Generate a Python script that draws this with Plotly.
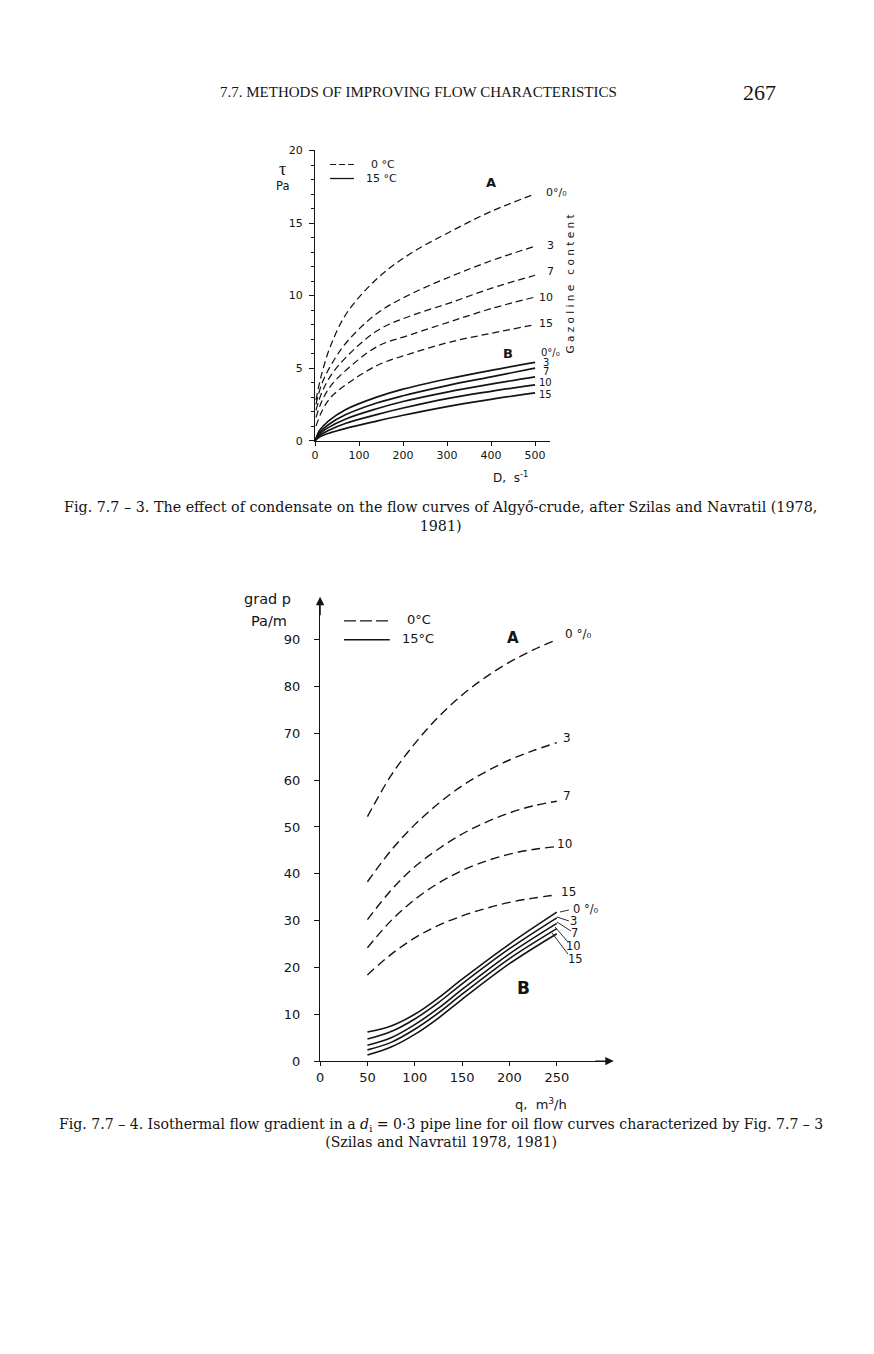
import plotly.graph_objects as go

W, H = 874, 1354
INK = "#141414"
SANS = "DejaVu Sans"
SERIF = "Liberation Serif"
CAPSERIF = "DejaVu Serif"

# ---------------- Fig. 7.7-3 data (shear stress vs shear rate) ----------------
gas_labels = ["0", "3", "7", "10", "15"]

D_cold = [2, 15, 36, 72, 142, 217, 307, 400, 500]
tau_cold = {
    "0":  [2.8, 4.6, 6.6, 8.8, 11.2, 12.9, 14.4, 15.8, 17.0],
    "3":  [2.5, 3.9, 5.2, 6.8, 8.8, 10.1, 11.3, 12.4, 13.4],
    "7":  [2.1, 3.3, 4.5, 5.8, 7.6, 8.6, 9.5, 10.5, 11.4],
    "10": [1.6, 2.7, 3.8, 4.9, 6.5, 7.3, 8.2, 9.1, 9.9],
    "15": [1.0, 2.0, 3.0, 3.9, 5.2, 6.0, 6.8, 7.4, 8.0],
}
D_warm = [0, 10, 30, 70, 140, 200, 300, 400, 500]
tau_warm = {
    "0":  [0, 0.7, 1.35, 2.15, 3.0, 3.55, 4.25, 4.85, 5.4],
    "3":  [0, 0.55, 1.1, 1.8, 2.6, 3.1, 3.8, 4.4, 5.0],
    "7":  [0, 0.45, 0.9, 1.5, 2.2, 2.7, 3.35, 3.9, 4.4],
    "10": [0, 0.35, 0.7, 1.2, 1.8, 2.25, 2.9, 3.4, 3.85],
    "15": [0, 0.25, 0.5, 0.85, 1.35, 1.75, 2.35, 2.85, 3.3],
}
top_xticks = [0, 100, 200, 300, 400, 500]
top_yticks = [0, 5, 10, 15, 20]

# ---------------- Fig. 7.7-4 data (pressure gradient vs flow rate) ----------------
q_cold = [50, 75, 100, 125, 150, 175, 200, 225, 250]
g_cold = {
    "0":  [52.2, 61.0, 67.8, 73.5, 78.2, 82.0, 85.2, 87.8, 90.0],
    "3":  [38.3, 45.0, 50.5, 55.0, 58.8, 61.8, 64.3, 66.3, 68.0],
    "7":  [30.2, 36.5, 41.5, 45.3, 48.5, 51.0, 53.0, 54.5, 55.5],
    "10": [24.2, 30.0, 34.5, 38.0, 40.7, 42.7, 44.2, 45.2, 45.8],
    "15": [18.4, 22.8, 26.3, 29.0, 31.0, 32.6, 33.9, 34.8, 35.5],
}
q_warm = [50, 75, 100, 125, 150, 200, 250]
g_warm = {
    "0":  [6.2, 7.5, 10.0, 13.5, 17.5, 25.0, 31.8],
    "3":  [4.7, 6.3, 9.0, 12.5, 16.5, 24.0, 30.6],
    "7":  [3.4, 5.0, 7.8, 11.3, 15.3, 22.9, 29.4],
    "10": [2.4, 4.0, 6.8, 10.3, 14.3, 21.9, 28.3],
    "15": [1.3, 3.0, 5.7, 9.2, 13.2, 20.8, 27.2],
}
bot_xticks = [0, 50, 100, 150, 200, 250]
bot_yticks = [0, 10, 20, 30, 40, 50, 60, 70, 80, 90]


# page-pixel -> paper coordinates (compensating the offset seen in the rendered page)
def px(x):
    return (x - 9.5) / W


def py(y):
    return 1 - ((y - 13.6) / 0.989) / H


fig = go.Figure()

for g in gas_labels:
    fig.add_trace(go.Scatter(x=D_cold, y=tau_cold[g], mode="lines", line_shape="spline",
                             line=dict(color=INK, width=1.25, dash="7px,4px"),
                             xaxis="x", yaxis="y", showlegend=False, hoverinfo="skip"))
for g in gas_labels:
    fig.add_trace(go.Scatter(x=D_warm, y=tau_warm[g], mode="lines", line_shape="spline",
                             line=dict(color=INK, width=1.7),
                             xaxis="x", yaxis="y", showlegend=False, hoverinfo="skip"))
for g in gas_labels:
    fig.add_trace(go.Scatter(x=q_cold, y=g_cold[g], mode="lines", line_shape="spline",
                             line=dict(color=INK, width=1.4, dash="9px,5px"),
                             xaxis="x2", yaxis="y2", showlegend=False, hoverinfo="skip"))
for g in gas_labels:
    fig.add_trace(go.Scatter(x=q_warm, y=g_warm[g], mode="lines", line_shape="spline",
                             line=dict(color=INK, width=1.6),
                             xaxis="x2", yaxis="y2", showlegend=False, hoverinfo="skip"))

axis_common = dict(showline=True, linecolor=INK, linewidth=1.2, showgrid=False,
                   zeroline=False, ticks="outside", tickcolor=INK, tickwidth=1,
                   fixedrange=True)

fig.update_layout(
    width=W, height=H, margin=dict(l=0, r=0, t=0, b=0),
    paper_bgcolor="white", plot_bgcolor="white",
    font=dict(family=SANS, color=INK),
    xaxis=dict(axis_common, domain=[px(314), px(550)], range=[0, 534], anchor="y",
               tickvals=top_xticks, ticklen=4, tickfont=dict(size=11, family=SANS)),
    yaxis=dict(axis_common, domain=[py(440), py(150)], range=[0, 20], anchor="x",
               tickvals=top_yticks, ticklen=5, ticklabelstandoff=4,
               tickfont=dict(size=11, family=SANS),
               minor=dict(dtick=1, ticklen=3, tickcolor=INK, ticks="outside")),
    xaxis2=dict(axis_common, domain=[px(319), px(606)], range=[0, 301.7], anchor="y2",
                tickvals=bot_xticks, ticklen=4, tickfont=dict(size=13, family=SANS)),
    yaxis2=dict(axis_common, domain=[py(1060), py(600)], range=[0, 98.3], anchor="x2",
                tickvals=bot_yticks, ticklen=5, ticklabelstandoff=11,
                tickfont=dict(size=13, family=SANS)),
)

ann = []


def text(x, y, s, size=12, family=SANS, xanchor="center", angle=0):
    ann.append(dict(x=px(x), y=py(y), xref="paper", yref="paper", text=s, showarrow=False,
                    font=dict(size=size, family=family, color=INK), xanchor=xanchor,
                    yanchor="middle", textangle=angle))


# page header and captions
text(418, 92, "7.7. METHODS OF IMPROVING FLOW CHARACTERISTICS", size=15, family=SERIF)
text(760, 92, "267", size=22, family=SERIF)
text(440, 516, "Fig. 7.7 – 3. The effect of condensate on the flow curves of Algyő-crude, after Szilas and Navratil (1978,<br>1981)",
     size=14.3, family=CAPSERIF)
text(440, 1132, "Fig. 7.7 – 4. Isothermal flow gradient in a <i>d</i><sub>i</sub> = 0·3 pipe line for oil flow curves characterized by Fig. 7.7 – 3<br>(Szilas and Navratil 1978, 1981)",
     size=14.1, family=CAPSERIF)

# top chart texts
text(281, 168, "τ", size=18, family=SERIF)
text(281, 185, "Pa", size=11.5)
text(368, 164, "0 °C", size=11, xanchor="left")
text(363, 178, "15 °C", size=11, xanchor="left")
text(491, 182, "<b>A</b>", size=13)
text(544, 192, "0°/₀", size=11, xanchor="left")
text(550, 245, "3", size=11)
text(550, 271, "7", size=11)
text(546, 297, "10", size=11)
text(546, 323, "15", size=11)
text(508, 353, "<b>B</b>", size=13)
text(539, 352, "0°/₀", size=10, xanchor="left")
text(546, 362, "3", size=10)
text(546, 371, "7", size=10)
text(545, 382, "10", size=10)
text(545, 394, "15", size=10)
text(570, 283, "G a z o l i n e   c o n t e n t", size=10.5, angle=-90)
text(510, 476, "D,  s<sup>-1</sup>", size=12)

# bottom chart texts
text(266, 598, "grad p", size=14.5)
text(268, 620, "Pa/m", size=14.5)
text(404, 619, "0°C", size=13, xanchor="left")
text(399, 638, "15°C", size=13, xanchor="left")
text(513, 637, "<b>A</b>", size=15)
text(563, 633, "0 °/₀", size=12, xanchor="left")
text(567, 737, "3", size=12)
text(567, 795, "7", size=12)
text(565, 843, "10", size=12)
text(569, 891, "15", size=12)
text(571, 908, "0 °/₀", size=11.5, xanchor="left")
text(574, 920, "3", size=11.5)
text(575, 932, "7", size=11.5)
text(574, 945, "10", size=11.5)
text(576, 958, "15", size=11.5)
text(523, 987, "<b>B</b>", size=17)
text(541, 1103, "q,  m<sup>3</sup>/h", size=13)

# axis arrows of the bottom chart
ann.append(dict(x=px(319), y=py(596), xref="paper", yref="paper", ax=0, ay=20,
                showarrow=True, arrowhead=2, arrowsize=1.2,
                arrowwidth=1.4, arrowcolor=INK, text=""))
ann.append(dict(x=px(614), y=py(1060), xref="paper", yref="paper", ax=-20, ay=0,
                showarrow=True, arrowhead=2, arrowsize=1.2,
                arrowwidth=1.4, arrowcolor=INK, text=""))
fig.update_layout(annotations=ann)

shapes = []
shapes.append(dict(type="line", xref="paper", yref="paper", x0=px(329), x1=px(353), y0=py(164), y1=py(164),
                   line=dict(color=INK, width=1.2, dash="6px,3px")))
shapes.append(dict(type="line", xref="paper", yref="paper", x0=px(329), x1=px(353), y0=py(178), y1=py(178),
                   line=dict(color=INK, width=1.3)))
shapes.append(dict(type="line", xref="paper", yref="paper", x0=px(343), x1=px(389), y0=py(620), y1=py(620),
                   line=dict(color=INK, width=1.3, dash="12px,4px")))
shapes.append(dict(type="line", xref="paper", yref="paper", x0=px(343), x1=px(389), y0=py(639), y1=py(639),
                   line=dict(color=INK, width=1.4)))
leaders = [(560, 911, 569, 909), (557, 916, 569, 920), (557, 921, 571, 930),
           (555, 926, 568, 941), (552, 932, 568, 953)]
for x0, y0, x1, y1 in leaders:
    shapes.append(dict(type="line", xref="paper", yref="paper", x0=px(x0), x1=px(x1), y0=py(y0), y1=py(y1),
                       line=dict(color=INK, width=0.9)))
fig.update_layout(shapes=shapes)

fig.write_html("out.html")
